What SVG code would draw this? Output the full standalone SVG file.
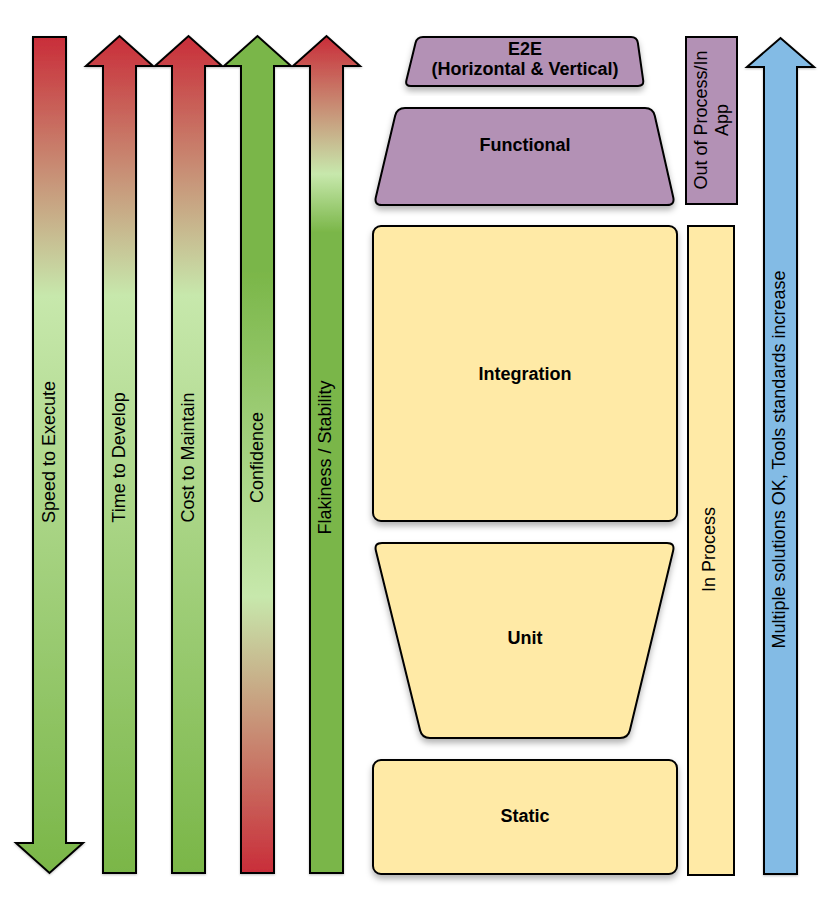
<svg xmlns="http://www.w3.org/2000/svg" width="839" height="915" viewBox="0 0 839 915">
<style>
text{font-family:"Liberation Sans",Arial,sans-serif;font-size:18px;fill:#000;text-anchor:middle}
.b{font-weight:bold}
.arr{stroke:#000;stroke-width:2;stroke-linejoin:miter}
.shp{stroke:#000;stroke-width:2}
.yel{fill:#FFEAA6}
.pur{fill:#B391B5}
</style>
<defs>
<linearGradient id="gRG" x1="0" y1="0" x2="0" y2="1">
<stop offset="0" stop-color="#C92D39"/>
<stop offset="0.31" stop-color="#C7E8AC"/>
<stop offset="1" stop-color="#7AB648"/>
</linearGradient>
<linearGradient id="gConf" x1="0" y1="0" x2="0" y2="1">
<stop offset="0" stop-color="#7AB648"/>
<stop offset="0.28" stop-color="#7AB648"/>
<stop offset="0.67" stop-color="#C7E8AC"/>
<stop offset="1" stop-color="#C92D39"/>
</linearGradient>
<linearGradient id="gFlak" x1="0" y1="0" x2="0" y2="1">
<stop offset="0" stop-color="#C92D39"/>
<stop offset="0.165" stop-color="#C7E8AC"/>
<stop offset="0.235" stop-color="#7AB648"/>
<stop offset="1" stop-color="#7AB648"/>
</linearGradient>
<filter id="sh" x="-10%" y="-10%" width="120%" height="130%">
<feDropShadow dx="0" dy="4" stdDeviation="3" flood-color="#000" flood-opacity="0.3"/>
</filter>
<filter id="sh2" x="-20%" y="-5%" width="140%" height="110%">
<feDropShadow dx="0" dy="1" stdDeviation="1" flood-color="#000" flood-opacity="0.25"/>
</filter>
</defs>

<g id="speed-to-execute">
<path class="arr" filter="url(#sh2)" fill="url(#gRG)" d="M33,37 H66 V843 H83 L49.5,873 L16,843 H33 Z"/>
<text transform="translate(48.5,452) rotate(-90)" y="6.4">Speed to Execute</text>
</g>
<g id="time-to-develop">
<path class="arr" filter="url(#sh2)" fill="url(#gRG)" d="M103,873 V66 H86 L119.5,36 L153,66 H136 V873 Z"/>
<text transform="translate(118.5,457.5) rotate(-90)" y="6.4">Time to Develop</text>
</g>
<g id="cost-to-maintain">
<path class="arr" filter="url(#sh2)" fill="url(#gRG)" d="M172,873 V66 H155 L188.5,36 L222,66 H205 V873 Z"/>
<text transform="translate(187.5,457.5) rotate(-90)" y="6.4">Cost to Maintain</text>
</g>
<g id="confidence">
<path class="arr" filter="url(#sh2)" fill="url(#gConf)" d="M241,873 V66 H224 L257.5,36 L291,66 H274 V873 Z"/>
<text transform="translate(256.5,457.5) rotate(-90)" y="6.4">Confidence</text>
</g>
<g id="flakiness-stability">
<path class="arr" filter="url(#sh2)" fill="url(#gFlak)" d="M310,873 V66 H293 L326.5,36 L360,66 H343 V873 Z"/>
<text transform="translate(325,457.5) rotate(-90)" y="6.4">Flakiness / Stability</text>
</g>

<g id="e2e">
<path class="shp pur" filter="url(#sh)" d="M423,37 L631,37 Q637,37 637.85,42.94 L643.15,80.06 Q644,86 638,86 L411,86 Q405,86 406.43,80.17 L415.57,42.83 Q417,37 423,37 Z"/>
<text class="b" x="525" y="55">E2E</text>
<text class="b" x="525" y="75">(Horizontal &amp; Vertical)</text>
</g>
<g id="functional">
<path class="shp pur" filter="url(#sh)" d="M405,108 L645,108 Q653,108 654.77,115.8 L673.23,197.2 Q675,205 667,205 L382,205 Q374,205 375.85,197.22 L395.15,115.78 Q397,108 405,108 Z"/>
<text class="b" x="525" y="151.4">Functional</text>
</g>
<g id="out-of-process">
<rect class="shp pur" x="686" y="37" width="51" height="167"/>
<text transform="translate(711.5,120) rotate(-90)"><tspan x="0" y="-4.2">Out of Process/In</tspan><tspan x="0" y="16.8">App</tspan></text>
</g>
<g id="integration">
<rect class="shp yel" filter="url(#sh)" x="373" y="226" width="304" height="295" rx="8" ry="8"/>
<text class="b" x="525" y="379.9">Integration</text>
</g>
<g id="unit">
<path class="shp yel" filter="url(#sh)" d="M382,543 L667,543 Q675,543 673.13,550.78 L629.87,730.22 Q628,738 620,738 L430,738 Q422,738 420.09,730.23 L375.91,550.77 Q374,543 382,543 Z"/>
<text class="b" x="525" y="643.9">Unit</text>
</g>
<g id="static">
<rect class="shp yel" filter="url(#sh)" x="373" y="760" width="304" height="114" rx="8" ry="8"/>
<text class="b" x="525" y="821.9">Static</text>
</g>
<g id="in-process">
<rect class="shp yel" x="688" y="226" width="46" height="649"/>
<text transform="translate(709,549.5) rotate(-90)" y="6.4">In Process</text>
</g>
<g id="multiple-solutions">
<path class="arr" filter="url(#sh2)" fill="#83BBE5" d="M764,874 V67 H747 L780.5,38 L814,67 H797 V874 Z"/>
<text transform="translate(779,459.5) rotate(-90)" y="6.4">Multiple solutions OK, Tools standards increase</text>
</g>
<g id="connectors"/>
</svg>
